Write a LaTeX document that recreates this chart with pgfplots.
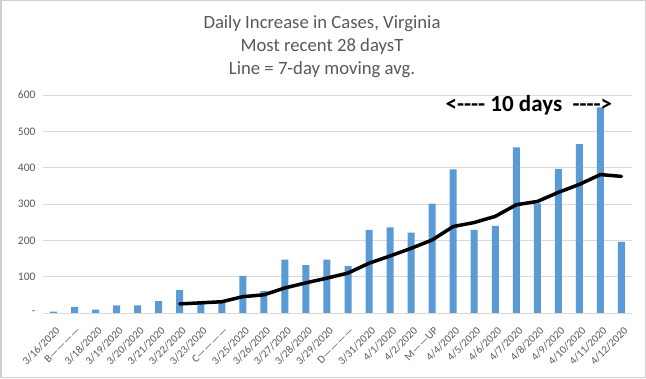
\documentclass[border=0pt]{standalone}
\usepackage{fontspec}
\setmainfont{Carlito}
\usepackage{pgfplots}
\pgfplotsset{compat=1.18}
\definecolor{barblue}{HTML}{5B9BD5}
\definecolor{txtgray}{HTML}{595959}
\definecolor{gridgray}{HTML}{D9D9D9}
\definecolor{framegray}{HTML}{D0D0D0}
\begin{document}
\begin{tikzpicture}[x=1pt,y=1pt]
\useasboundingbox (0,0) rectangle (646,378);
\fill[white] (0,0) rectangle (646,378);
\draw[framegray, line width=1.5pt] (0.75,0.75) rectangle (645.25,377.25);
\node[anchor=base, font=\fontsize{18.7}{23}\selectfont, text=txtgray] at (322,349) {Daily Increase in Cases, Virginia};
\node[anchor=base, font=\fontsize{18.7}{23}\selectfont, text=txtgray] at (322,326) {Most recent 28 daysT};
\node[anchor=base, font=\fontsize{18.7}{23}\selectfont, text=txtgray] at (322,303) {Line = 7-day moving avg.};
\begin{axis}[
  at={(43pt,65pt)}, anchor=south west,
  scale only axis, width=589pt, height=218pt,
  xmin=-0.5, xmax=27.5, ymin=0, ymax=600,
  axis line style={draw=none},
  tick style={draw=none},
  ymajorgrids, grid style={gridgray, line width=0.8pt},
  ytick={0,100,200,300,400,500,600},
  yticklabels={-,100,200,300,400,500,600},
  yticklabel style={font=\fontsize{11.5}{12}\selectfont, text=txtgray, xshift=-4pt},
  xtick={0,...,27},
  xticklabels={3/16/2020,B------------,3/18/2020,3/19/2020,3/20/2020,3/21/2020,3/22/2020,3/23/2020,C------------,3/25/2020,3/26/2020,3/27/2020,3/28/2020,3/29/2020,D------------,3/31/2020,4/1/2020,4/2/2020,M------UP,4/4/2020,4/5/2020,4/6/2020,4/7/2020,4/8/2020,4/9/2020,4/10/2020,4/11/2020,4/12/2020},
  xticklabel style={yshift=-13pt, xshift=1.5pt, rotate=45, anchor=north east, inner sep=0pt, font=\fontsize{11}{11}\selectfont, text=txtgray},
  clip=false,
]
\addplot[ybar, bar width=7pt, fill=barblue, draw=none] coordinates {
(0,4) (1,17) (2,9) (3,21) (4,21) (5,33) (6,63) (7,28) (8,27) (9,102)
(10,60) (11,147) (12,132) (13,147) (14,129) (15,229) (16,236) (17,221) (18,301) (19,395)
(20,229) (21,240) (22,456) (23,302) (24,397) (25,465) (26,566) (27,196)
};
\addplot[black, line width=3.5pt, line join=round, line cap=round] coordinates {
(6,25) (7,28) (8,31) (9,45) (10,50) (11,69) (12,83) (13,96) (14,110) (15,137)
(16,157) (17,178) (18,201) (19,238) (20,249) (21,266) (22,298) (23,307) (24,332)
(25,354) (26,381) (27,376)
};
\node[font=\bfseries\fontsize{23}{23}\selectfont, text=black] at (axis cs:22.6,573) {<-{}-{}-{}- 10 days \ -{}-{}-{}->};
\end{axis}
\end{tikzpicture}
\end{document}
